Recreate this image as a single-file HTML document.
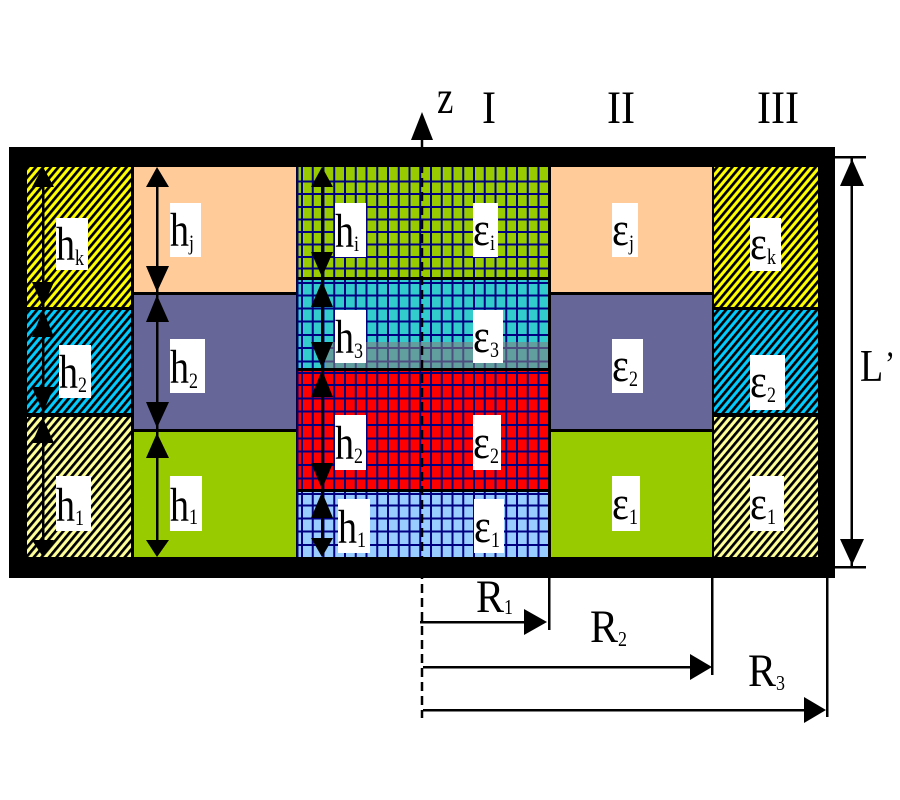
<!DOCTYPE html>
<html><head><meta charset="utf-8"><style>
html,body{margin:0;padding:0;background:#fff;}
svg{display:block;}
svg text{font-family:"Liberation Serif","Times New Roman","DejaVu Serif",serif;fill:#000;}
</style></head><body>
<svg width="900" height="800" viewBox="0 0 900 800" xmlns="http://www.w3.org/2000/svg" font-family="Liberation Serif, Times New Roman, DejaVu Serif, serif">
<defs>
<pattern id="hy" width="5.8" height="20" patternUnits="userSpaceOnUse" patternTransform="rotate(40)"><rect width="5.8" height="20" fill="#FFFF00"/><rect width="2.7" height="20" fill="#000"/></pattern>
<pattern id="hc" width="5.8" height="20" patternUnits="userSpaceOnUse" patternTransform="rotate(40)"><rect width="5.8" height="20" fill="#00CCFF"/><rect width="2.7" height="20" fill="#000"/></pattern>
<pattern id="hl" width="5.8" height="20" patternUnits="userSpaceOnUse" patternTransform="rotate(40)"><rect width="5.8" height="20" fill="#FFFF99"/><rect width="2.7" height="20" fill="#000"/></pattern>
</defs>

<!-- frame -->
<rect x="9" y="147" width="826" height="431" fill="#000"/>

<!-- left column -->
<rect x="27" y="167" width="104" height="140" fill="url(#hy)"/>
<rect x="27" y="310" width="104" height="103" fill="url(#hc)"/>
<rect x="27" y="417" width="104" height="140" fill="url(#hl)"/>

<!-- column j -->
<rect x="134" y="167" width="162" height="125" fill="#FFCC99"/>
<rect x="134" y="295" width="162" height="134" fill="#666699"/>
<rect x="134" y="432" width="162" height="125" fill="#99CC00"/>

<!-- central column -->
<rect x="297" y="167" width="252" height="110" fill="#99CC00"/>
<rect x="297" y="280" width="252" height="88" fill="#33CCCC"/>
<rect x="297" y="371" width="252" height="118" fill="#FF0000"/>
<rect x="297" y="492" width="252" height="65" fill="#99CCFF"/>
<g stroke="#000080" stroke-width="2" fill="none">
<path d="M297.5 167V557M302 167V557M312.75 167V557M323.5 167V557M334.25 167V557M345 167V557M355.75 167V557M366.5 167V557M377.25 167V557M388 167V557M398.75 167V557M409.5 167V557M420.25 167V557M431 167V557M441.75 167V557M452.5 167V557M463.25 167V557M474 167V557M484.75 167V557M495.5 167V557M506.25 167V557M517 167V557M527.75 167V557M538.5 167V557"/>
<path d="M297 181.5H549M297 194H549M297 207H549M297 219.5H549M297 232H549M297 244.5H549M297 257H549M297 268.5H549M297 283H549M297 295.5H549M297 308.5H549M297 321.5H549M297 335H549M297 348H549M297 361.5H549M297 373H549M297 385H549M297 398.5H549M297 411.5H549M297 425H549M297 438.5H549M297 451.5H549M297 465H549M297 478.5H549M297 494H549M297 505.5H549M297 518.5H549M297 531.5H549M297 545H549"/>
</g>
<rect x="297" y="277" width="252" height="3" fill="#000"/>
<rect x="297" y="368" width="252" height="3" fill="#000"/>
<rect x="297" y="489" width="252" height="3" fill="#000"/>
<rect x="325" y="342" width="224" height="26" fill="#808080" opacity="0.6"/>
<rect x="548" y="167" width="3" height="390" fill="#000"/>

<!-- column II -->
<rect x="551" y="167" width="161" height="125" fill="#FFCC99"/>
<rect x="551" y="295" width="161" height="134" fill="#666699"/>
<rect x="551" y="432" width="161" height="125" fill="#99CC00"/>

<!-- column III -->
<rect x="714" y="167" width="104" height="140" fill="url(#hy)"/>
<rect x="714" y="310" width="104" height="103" fill="url(#hc)"/>
<rect x="714" y="417" width="104" height="140" fill="url(#hl)"/>

<!-- z axis -->
<line x1="422" y1="140" x2="422" y2="150" stroke="#000" stroke-width="2.5"/>
<line x1="422" y1="150" x2="422" y2="718" stroke="#000" stroke-width="2.5" stroke-dasharray="9,5"/>
<polygon points="422,112 411,140 433,140" fill="#000"/>

<!-- height arrows -->
<g fill="#000">
<rect x="42" y="170" width="2.5" height="385"/>
<polygon points="43,167 32,187 54,187"/>
<polygon points="43,307 32,282 54,282"/>
<polygon points="43,310 32,337 54,337"/>
<polygon points="43,412 32,387 54,387"/>
<polygon points="43,418 32,443 54,443"/>
<polygon points="43,557 32,540 54,540"/>

<rect x="156" y="170" width="2.5" height="385"/>
<polygon points="157,167 146,187 169,187"/>
<polygon points="157,292 146,266 169,266"/>
<polygon points="157,295 146,322 169,322"/>
<polygon points="157,428 146,402 169,402"/>
<polygon points="157,433 146,458 169,458"/>
<polygon points="157,557 146,540 169,540"/>

<rect x="321" y="170" width="2.5" height="385"/>
<polygon points="322,167 311,187 333,187"/>
<polygon points="322,277 311,252 333,252"/>
<polygon points="322,281 311,307 333,307"/>
<polygon points="322,368 311,342 333,342"/>
<polygon points="322,370 311,397 333,397"/>
<polygon points="322,489 311,463 333,463"/>
<polygon points="322,492 311,518 333,518"/>
<polygon points="322,557 311,538 333,538"/>
</g>

<!-- L' dimension -->
<g fill="#000" stroke="none">
<rect x="850.5" y="157" width="2.5" height="410"/>
<rect x="835" y="156" width="31" height="2.5"/>
<rect x="835" y="566" width="31" height="2.5"/>
<polygon points="852,159 840,186 864,186"/>
<polygon points="852,565 840,539 864,539"/>
</g>

<!-- R dimensions -->
<g fill="#000">
<rect x="420" y="621" width="106" height="2.5"/>
<polygon points="547,622 524,609 524,635"/>
<rect x="548" y="578" width="2.5" height="52"/>
<rect x="423" y="666" width="268" height="2.5"/>
<polygon points="712,667 690,654 690,680"/>
<rect x="711" y="578" width="2.5" height="97"/>
<rect x="423" y="709" width="383" height="2.5"/>
<polygon points="826,710 804,697 804,723"/>
<rect x="826" y="578" width="2.5" height="139"/>
</g>

<!-- label boxes -->
<g fill="#fff">
<rect x="56" y="218" width="32" height="52"/>
<rect x="59" y="345" width="32" height="53"/>
<rect x="56" y="476" width="35" height="55"/>
<rect x="170" y="203" width="31" height="54"/>
<rect x="170" y="339" width="35" height="54"/>
<rect x="170" y="476" width="32" height="55"/>
<rect x="335" y="203" width="31" height="54"/>
<rect x="473" y="203" width="25" height="54"/>
<rect x="335" y="310" width="31" height="53"/>
<rect x="473" y="310" width="30" height="53"/>
<rect x="335" y="415" width="31" height="55"/>
<rect x="473" y="415" width="28" height="55"/>
<rect x="338" y="499" width="32" height="54"/>
<rect x="474" y="499" width="30" height="54"/>
<rect x="612" y="203" width="26" height="54"/>
<rect x="612" y="339" width="31" height="54"/>
<rect x="612" y="476" width="28" height="55"/>
<rect x="750" y="218" width="31" height="53"/>
<rect x="750" y="355" width="35" height="55"/>
<rect x="750" y="476" width="34" height="55"/>
</g>

<!-- h labels -->
<g font-size="38">
<text transform="translate(56,260) scale(1,1.25)">h</text>
<text transform="translate(59,388) scale(1,1.25)">h</text>
<text transform="translate(56,521) scale(1,1.25)">h</text>
<text transform="translate(170,246) scale(1,1.25)">h</text>
<text transform="translate(170,383) scale(1,1.25)">h</text>
<text transform="translate(170,521) scale(1,1.25)">h</text>
<text transform="translate(335,247) scale(1,1.25)">h</text>
<text transform="translate(335,353) scale(1,1.25)">h</text>
<text transform="translate(335,459) scale(1,1.25)">h</text>
<text transform="translate(338,543) scale(1,1.25)">h</text>
</g>
<g font-size="18">
<text transform="translate(75,265) scale(1,1.25)">k</text>
<text transform="translate(78,392) scale(1,1.25)">2</text>
<text transform="translate(75,525) scale(1,1.25)">1</text>
<text transform="translate(189,250) scale(1,1.25)">j</text>
<text transform="translate(189,388) scale(1,1.25)">2</text>
<text transform="translate(189,524) scale(1,1.25)">1</text>
<text transform="translate(354,251) scale(1,1.25)">i</text>
<text transform="translate(354,358) scale(1,1.25)">3</text>
<text transform="translate(354,463) scale(1,1.25)">2</text>
<text transform="translate(357,547) scale(1,1.25)">1</text>
</g>

<!-- epsilon labels -->
<g font-size="40">
<text transform="translate(473,245) scale(1,1.2)">ε</text>
<text transform="translate(473,352) scale(1,1.2)">ε</text>
<text transform="translate(473,458) scale(1,1.2)">ε</text>
<text transform="translate(474,542) scale(1,1.2)">ε</text>
<text transform="translate(612,245) scale(1,1.2)">ε</text>
<text transform="translate(612,381) scale(1,1.2)">ε</text>
<text transform="translate(612,519) scale(1,1.2)">ε</text>
<text transform="translate(750,259) scale(1,1.2)">ε</text>
<text transform="translate(750,397) scale(1,1.2)">ε</text>
<text transform="translate(750,519) scale(1,1.2)">ε</text>
</g>
<g font-size="18">
<text transform="translate(490,250) scale(1,1.25)">i</text>
<text transform="translate(490,357) scale(1,1.25)">3</text>
<text transform="translate(490,463) scale(1,1.25)">2</text>
<text transform="translate(491,547) scale(1,1.25)">1</text>
<text transform="translate(629,250) scale(1,1.25)">j</text>
<text transform="translate(629,386) scale(1,1.25)">2</text>
<text transform="translate(629,524) scale(1,1.25)">1</text>
<text transform="translate(767,264) scale(1,1.25)">k</text>
<text transform="translate(767,402) scale(1,1.25)">2</text>
<text transform="translate(767,524) scale(1,1.25)">1</text>
</g>

<!-- axis labels -->
<g>
<text transform="translate(437,113) scale(1,1.25)" font-size="37">z</text>
<text transform="translate(489,123) scale(1,1.1)" font-size="42" text-anchor="middle">I</text>
<text transform="translate(621,123) scale(1,1.1)" font-size="42" text-anchor="middle">II</text>
<text transform="translate(778,123) scale(1,1.1)" font-size="42" text-anchor="middle">III</text>
<text transform="translate(860,381) scale(1,1.2)" font-size="38">L</text>
<text transform="translate(885,376) scale(1,1.2)" font-size="30">’</text>

<text transform="translate(476,612) scale(1,1.1)" font-size="42">R</text>
<text transform="translate(504,614) scale(1,1.2)" font-size="18">1</text>
<text transform="translate(590,642) scale(1,1.1)" font-size="42">R</text>
<text transform="translate(618,646) scale(1,1.2)" font-size="18">2</text>
<text transform="translate(748,686) scale(1,1.1)" font-size="42">R</text>
<text transform="translate(776,690) scale(1,1.2)" font-size="18">3</text>
</g>
</svg>
</body></html>
